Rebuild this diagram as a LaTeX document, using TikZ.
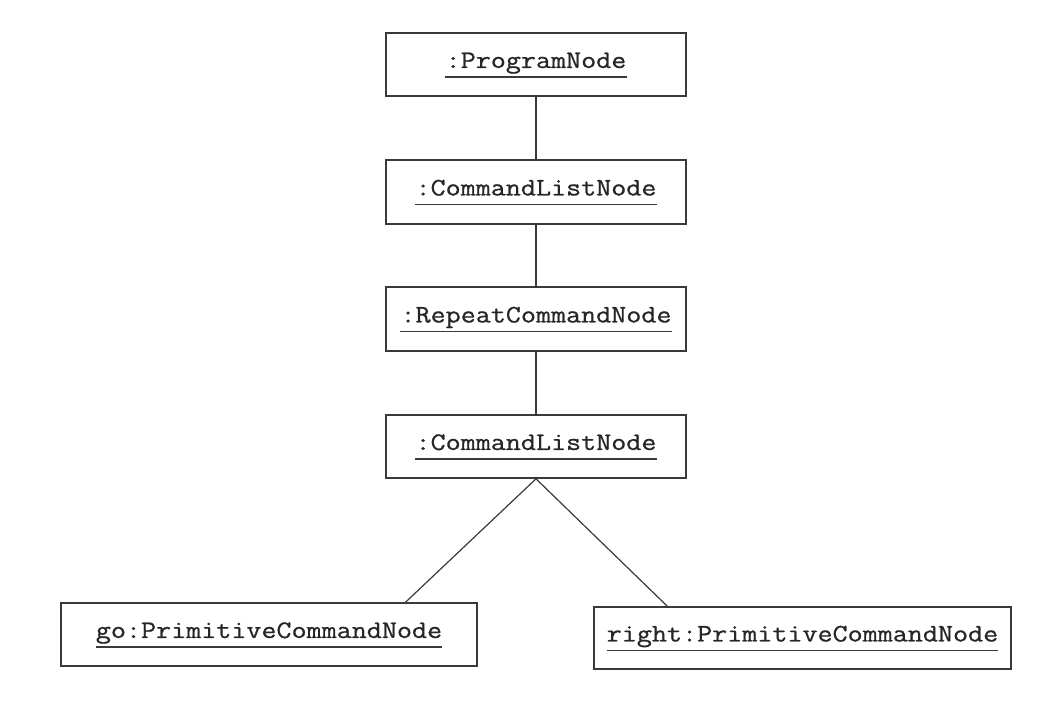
\documentclass[tikz,border=0pt]{standalone}
\usepackage{fontspec}
\newfontfamily\objfont{Latin Modern Mono}[FakeStretch=1.16,FakeBold=0.8]
\usetikzlibrary{calc}
\definecolor{linec}{HTML}{3A3A3A}
\definecolor{textc}{HTML}{262626}
\tikzset{
  objbox/.style={draw=linec, line width=1.2pt, inner sep=0pt},
  lbl/.style={anchor=base, inner sep=0pt, text=textc, font=\objfont\fontsize{18.9pt}{20pt}\selectfont},
  ulin/.style={draw=linec, line width=0.9pt},
  link/.style={draw=linec, line width=0.9pt}
}
\begin{document}
\begin{tikzpicture}[x=0.75pt, y=-0.75pt]
\useasboundingbox[fill=white] (0,0) rectangle (1060,718);
% boxes
\node[objbox, minimum width=225pt, minimum height=47.25pt] (pn)  at (536,64.5) {};
\node[objbox, minimum width=225pt, minimum height=48pt] (cl1) at (536,192) {};
\node[objbox, minimum width=225pt, minimum height=48pt] (rep) at (536,319) {};
\node[objbox, minimum width=225pt, minimum height=47.25pt] (cl2) at (536,446.5) {};
\node[objbox, minimum width=312pt, minimum height=47.25pt] (go)  at (269,634.5) {};
\node[objbox, minimum width=312.75pt, minimum height=46.5pt] (rt) at (802.5,638) {};
% labels
\node[lbl] (pnt)  at ([yshift=-2.6pt]pn.center)  {:ProgramNode};
\node[lbl] (cl1t) at ([yshift=-2.6pt]cl1.center) {:CommandListNode};
\node[lbl] (rept) at ([yshift=-2.6pt]rep.center) {:RepeatCommandNode};
\node[lbl] (cl2t) at ([yshift=-2.6pt]cl2.center) {:CommandListNode};
\node[lbl] (got)  at ([yshift=-2.6pt]go.center)  {go:PrimitiveCommandNode};
\node[lbl] (rtt)  at ([yshift=-2.6pt]rt.center)  {right:PrimitiveCommandNode};
% underlines
\foreach \t in {pnt,cl1t,rept,cl2t,got,rtt}{
  \draw[ulin] ([yshift=-6.8pt]\t.base west) -- ([yshift=-6.8pt]\t.base east);
}
% connectors
\draw[link] (pn.south) -- (cl1.north);
\draw[link] (cl1.south) -- (rep.north);
\draw[link] (rep.south) -- (cl2.north);
\draw[link] (cl2.south) -- ($(go.north west)!0.827!(go.north east)$);
\draw[link] (cl2.south) -- ($(rt.north west)!0.177!(rt.north east)$);
\end{tikzpicture}
\end{document}
